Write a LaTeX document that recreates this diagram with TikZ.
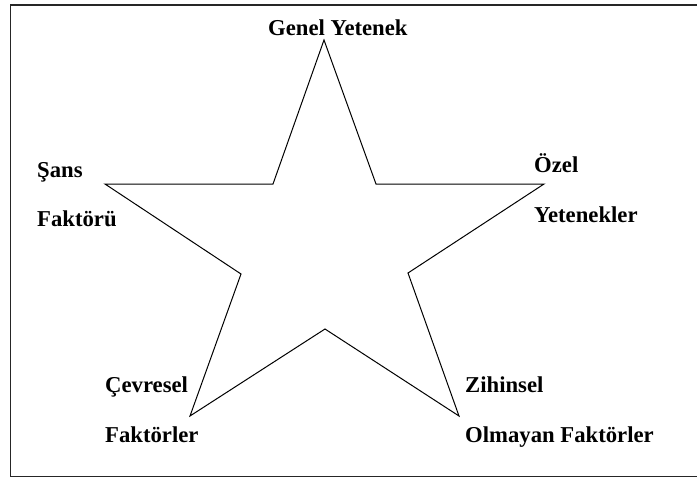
\documentclass[tikz,border=0pt]{standalone}
\usepackage{fontspec}
\setmainfont{Liberation Serif}[BoldFont={Liberation Serif Bold}]
\begin{document}
\begin{tikzpicture}[x=1pt,y=-1pt,
  lbl/.style={anchor=base west,inner sep=0pt,font=\fontsize{22.7}{27}\selectfont\bfseries},
  frame/.style={draw=black!85,line width=1.6pt},
  starline/.style={draw=black,line width=1pt,line join=miter}]
\useasboundingbox (0,0) rectangle (697,477);
% frame (right side cut off)
\draw[frame] (697,5) -- (10.5,5) -- (10.5,476.5) -- (697,476.5);
% star corners
\coordinate (top) at (324,40);
\coordinate (iul) at (273,184);
\coordinate (lft) at (105,184);
\coordinate (il) at (241,274);
\coordinate (bl) at (190,416);
\coordinate (ib) at (325,329);
\coordinate (br) at (459,416);
\coordinate (ir) at (408,273);
\coordinate (rgt) at (544,184);
\coordinate (iur) at (376,184);
\draw[starline] (top) -- (iul) -- (lft) -- (il) -- (bl) -- (ib) -- (br) -- (ir) -- (rgt) -- (iur) -- cycle;
% labels
\node[lbl] (genel) at (268,35) {Genel Yetenek};
\node[lbl] (sans) at (37,177) {Şans};
\node[lbl] (faktoru) at (37,226) {Faktörü};
\node[lbl] (ozel) at (534,172) {Özel};
\node[lbl] (yetenekler) at (534,222) {Yetenekler};
\node[lbl] (cevresel) at (105,392) {Çevresel};
\node[lbl] (faktorler) at (105,442) {Faktörler};
\node[lbl] (zihinsel) at (465,392) {Zihinsel};
\node[lbl] (olmayan) at (465,442) {Olmayan Faktörler};
\end{tikzpicture}
\end{document}
